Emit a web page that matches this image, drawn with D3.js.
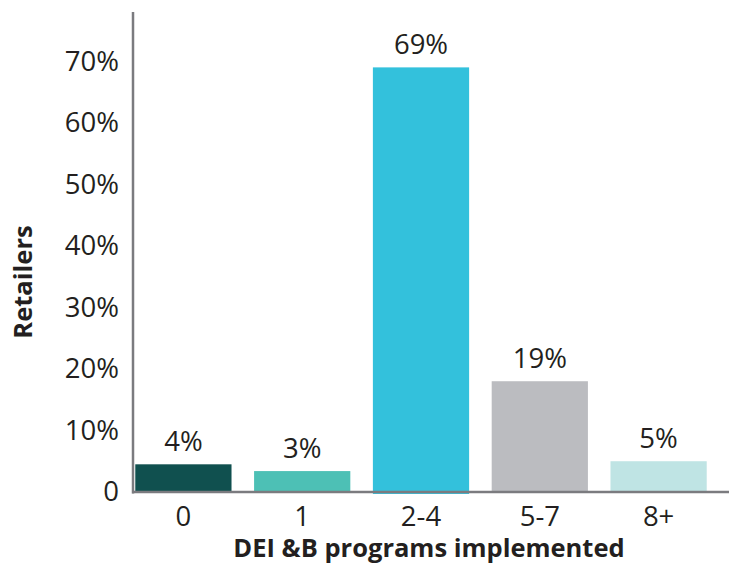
<!DOCTYPE html>
<html><head><meta charset="utf-8">
<script src="https://cdn.jsdelivr.net/npm/d3@7"></script>
<style>body{margin:0;background:#fff}svg{display:block}text{font-family:"Open Sans",Lato,sans-serif;fill:#231f20}</style>
</head><body><svg id="c" width="729" height="565"></svg>
<script>
const categories = ["0","1","2-4","5-7","8+"];
const values = [4.5, 3.4, 69, 18, 5];
const valueLabels = ["4%","3%","69%","19%","5%"];
const colors = ["#10504f","#4dc0b5","#33c1dc","#bbbcc0","#bfe4e4"];
const yTicks = [0,10,20,30,40,50,60,70];
const yTickLabels = ["0","10%","20%","30%","40%","50%","60%","70%"];

const FONT = '"Open Sans",Lato,sans-serif';
const svg = d3.select("#c");
const x = d3.scaleBand().domain(categories).range([124, 718]).paddingInner(0.19).paddingOuter(0.095);
const y = d3.scaleLinear().domain([0, 78]).range([492, 12]);

svg.selectAll("rect.bar").data(values).join("rect").attr("class","bar")
  .attr("x",(d,i)=>x(categories[i])).attr("width",x.bandwidth())
  .attr("y",d=>y(d)).attr("height",(d,i)=>y(0)-y(d)+(i===2?2:0))
  .attr("fill",(d,i)=>colors[i]);

svg.selectAll("text.val").data(values).join("text").attr("class","val")
  .attr("x",(d,i)=>x(categories[i])+x.bandwidth()/2).attr("y",d=>y(d)-13)
  .attr("text-anchor","middle").attr("font-size",27.5).text((d,i)=>valueLabels[i]);

const yAxis = d3.axisLeft(y).tickValues(yTicks).tickFormat((d,i)=>yTickLabels[i]).tickSize(0).tickPadding(14);
const ga = svg.append("g").attr("transform","translate(133,0)").call(yAxis);
ga.select(".domain").remove();
ga.selectAll("text").attr("font-size",27.5).style("font-family",FONT).attr("fill","#231f20");

const xAxis = d3.axisBottom(x).tickSize(0).tickPadding(14);
const gx = svg.append("g").attr("transform","translate(0,492)").call(xAxis);
gx.select(".domain").remove();
gx.selectAll("text").attr("font-size",27.5).style("font-family",FONT).attr("fill","#231f20");

svg.append("line").attr("x1",133).attr("x2",133).attr("y1",y(78)).attr("y2",y(0)+1.5).attr("stroke","#7b7b7f").attr("stroke-width",2.5);
svg.append("line").attr("x1",132).attr("x2",729).attr("y1",y(0)).attr("y2",y(0)).attr("stroke","#7b7b7f").attr("stroke-width",2.5);

svg.append("text").attr("x",429).attr("y",557).attr("text-anchor","middle").attr("font-size",25.5).attr("font-weight","bold").text("DEI &B programs implemented");
svg.append("text").attr("transform","translate(32,282) rotate(-90)").attr("text-anchor","middle").attr("font-size",25.5).attr("font-weight","bold").text("Retailers");
</script></body></html>
